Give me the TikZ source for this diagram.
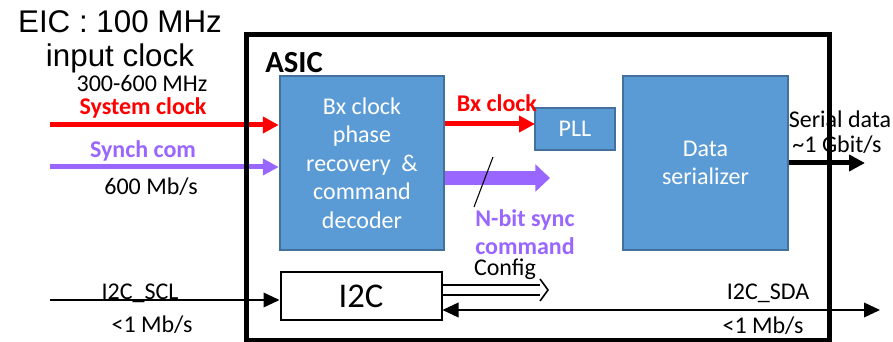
\documentclass[tikz,border=0pt]{standalone}
\usepackage{fontspec}
\setmainfont{Carlito}
\newfontfamily\titlefont{Liberation Sans}
\usetikzlibrary{positioning,arrows.meta}
\definecolor{blkfill}{RGB}{91,155,213}
\definecolor{blkedge}{RGB}{65,113,156}
\definecolor{syncpurple}{RGB}{153,102,255}
\tikzset{
  blk/.style={draw=blkedge,fill=blkfill,line width=1.8pt,text=white,align=center,font=\fontsize{18}{21.4}\selectfont},
  iobox/.style={draw=black,line width=1.5pt,fill=white,font=\fontsize{26}{30}\selectfont},
  ttl/.style={font=\titlefont\fontsize{23.5}{28}\selectfont,inner sep=0pt,anchor=base},
  lab/.style={font=\fontsize{18}{21}\selectfont,inner sep=0pt,anchor=base},
  blab/.style={lab,font=\fontsize{18}{21}\selectfont\bfseries},
  clkarr/.style={red,line width=3.75pt,-{Triangle[length=12pt,width=12pt]}},
  syncarr/.style={syncpurple,line width=3.75pt,-{Triangle[length=12pt,width=12pt]}},
  widearr/.style={syncpurple,line width=10pt,-{Triangle[length=11pt,width=20pt]}},
  datarr/.style={black,line width=3.75pt,-{Triangle[length=12pt,width=12pt]}},
  busarr/.style={black,line width=1.2pt,-{Triangle[length=12pt,width=11pt]}},
  cfg/.style={black,line width=1.2pt},
  asic/.style={black,line width=3.75pt}
}
\begin{document}
\begin{tikzpicture}[x=0.75pt,y=-0.75pt]
\useasboundingbox (0,0) rectangle (893,342);
\node[ttl] (eic) at (120,33) {EIC : 100 MHz};
\node[ttl] (inclk) at (120,67) {input clock};

\node[blk,minimum width=123pt,minimum height=130.5pt] (bx) at (362,163) {Bx clock\\phase\\recovery~~\&\\command\\decoder};
\node[blk,minimum width=60pt,minimum height=31.5pt] (pll) at (575,129) {PLL};
\node[blk,minimum width=123.75pt,minimum height=130.5pt] (ser) at (705.5,163) {Data\\serializer};
\node[iobox,minimum width=120.75pt,minimum height=36pt] (i2c) at (361,296) {I2C};

\coordinate (sysin) at (50,125);
\coordinate (syncin) at (50,167);
\coordinate (pllin) at (535,124);
\coordinate (nbit) at (550,178);
\coordinate (serout) at (865,163);
\coordinate (sclin) at (50,300);
\coordinate (sdaout) at (880,310);
\coordinate (cfgtip) at (548,290);
\path (cfgtip) ++(-8,-5) coordinate (cfga) ++(0,10) coordinate (cfgb);

\draw[clkarr] (sysin) -- (sysin -| bx.west);
\draw[syncarr] (syncin) -- (syncin -| bx.west);
\draw[clkarr] (bx.east |- pllin) -- (pllin);
\draw[widearr] (bx.east |- nbit) -- (nbit);
\draw[line width=0.8pt] (474,207) -- (493,157);
\draw[datarr] (ser.east |- serout) -- (serout);
\draw[busarr] (sclin) -- (sclin -| i2c.west);
\draw[busarr,{Triangle[length=12pt,width=11pt]}-{Triangle[length=12pt,width=11pt]}] (i2c.east |- sdaout) -- (sdaout);
\draw[cfg] (i2c.east |- cfga) -- (cfga);
\draw[cfg] (i2c.east |- cfgb) -- (cfgb);
\draw[cfg] (cfgtip) ++(-8,-11) -- (cfgtip) -- ++(-8,11);

\node[lab] (frq) at (142,92) {300-600 MHz};
\node[blab,red] (sysclk) at (143,115) {System clock};
\node[blab,syncpurple] (synch) at (143,158) {Synch com};
\node[lab] (rate) at (151,195) {600 Mb/s};
\node[blab,red] (bxclk) at (497,112) {Bx clock};
\node[blab,syncpurple] (nbit1) at (525,227) {N-bit sync};
\node[blab,syncpurple] (nbit2) at (525,254) {command};
\node[lab] (serlab1) at (840,128) {Serial data};
\node[lab] (serlab2) at (837,153) {\textasciitilde 1 Gbit/s};
\node[lab] (cfglab) at (505,276) {Config};
\node[lab] (scl) at (140,299) {I2C\_SCL};
\node[lab] (sclrate) at (152,332) {<1 Mb/s};
\node[lab] (sda) at (768,300) {I2C\_SDA};
\node[lab] (sdarate) at (763,333) {<1 Mb/s};
\node[blab,anchor=base west,font=\fontsize{23}{27}\selectfont\bfseries] (asiclab) at (265,73) {ASIC};

\draw[asic] (246,35) rectangle (829,340);
\end{tikzpicture}
\end{document}
